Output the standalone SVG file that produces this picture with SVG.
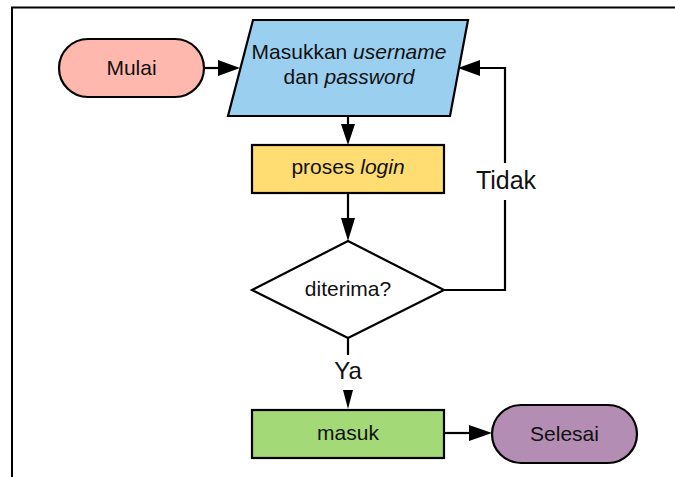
<svg xmlns="http://www.w3.org/2000/svg" width="675" height="477" viewBox="0 0 675 477">
<style>
  .shape{stroke:#000;stroke-width:2.2;stroke-linejoin:miter}
  .t{font-family:"Liberation Sans",Arial,sans-serif;font-size:21px;fill:#111;text-anchor:middle}
  .lbl{font-family:"Liberation Sans",Arial,sans-serif;fill:#111;text-anchor:middle}
  .c{fill:none;stroke:#000;stroke-width:2.2}
  .ah{fill:#000;stroke:none}
</style>
<rect width="675" height="477" fill="#fff"/>
<path d="M12,477 V7.5 H675" fill="none" stroke="#000" stroke-width="2"/>
<g id="connectors">
  <line class="c" x1="204" y1="68" x2="220" y2="68"/>
  <polygon class="ah" points="218,60 240,68 218,76"/>
  <line class="c" x1="348" y1="116" x2="348" y2="126"/>
  <polygon class="ah" points="341,124 355,124 348,145"/>
  <line class="c" x1="348" y1="193" x2="348" y2="220"/>
  <polygon class="ah" points="341,218 355,218 348,241"/>
  <path class="c" d="M444,290 H505 V200 M505,163 V68 H478"/>
  <polygon class="ah" points="480,60 480,76 458,68"/>
  <text class="lbl" x="506" y="189" font-size="25">Tidak</text>
  <line class="c" x1="348" y1="338" x2="348" y2="355"/>
  <text class="lbl" x="348" y="379" font-size="24">Ya</text>
  <polygon class="ah" points="343,390 353,390 348,409"/>
  <line class="c" x1="444" y1="433" x2="470" y2="433"/>
  <polygon class="ah" points="469,425 492,433 469,441"/>
</g>
<g id="mulai">
  <rect class="shape" x="59" y="39" width="145" height="58" rx="29" fill="#FFB8AE"/>
  <text class="t" x="131.5" y="75">Mulai</text>
</g>
<g id="input">
  <polygon class="shape" points="253,20 468,20 450,116 228,116" fill="#9ACFF0"/>
  <text class="t" x="349" y="59">Masukkan <tspan font-style="italic">username</tspan></text>
  <text class="t" x="349" y="84">dan <tspan font-style="italic">password</tspan></text>
</g>
<g id="proses">
  <rect class="shape" x="252" y="145" width="192" height="48" fill="#FFDD72"/>
  <text class="t" x="348" y="174">proses <tspan font-style="italic">login</tspan></text>
</g>
<g id="diterima">
  <polygon class="shape" points="348,241 444,290 348,338 252,290" fill="#fff"/>
  <text class="t" x="348" y="296">diterima?</text>
</g>
<g id="masuk">
  <rect class="shape" x="252" y="410" width="192" height="48" fill="#A4D977"/>
  <text class="t" x="348" y="440">masuk</text>
</g>
<g id="selesai">
  <rect class="shape" x="492" y="405" width="145" height="58" rx="29" fill="#B38DB3"/>
  <text class="t" x="564.5" y="441">Selesai</text>
</g>
</svg>
